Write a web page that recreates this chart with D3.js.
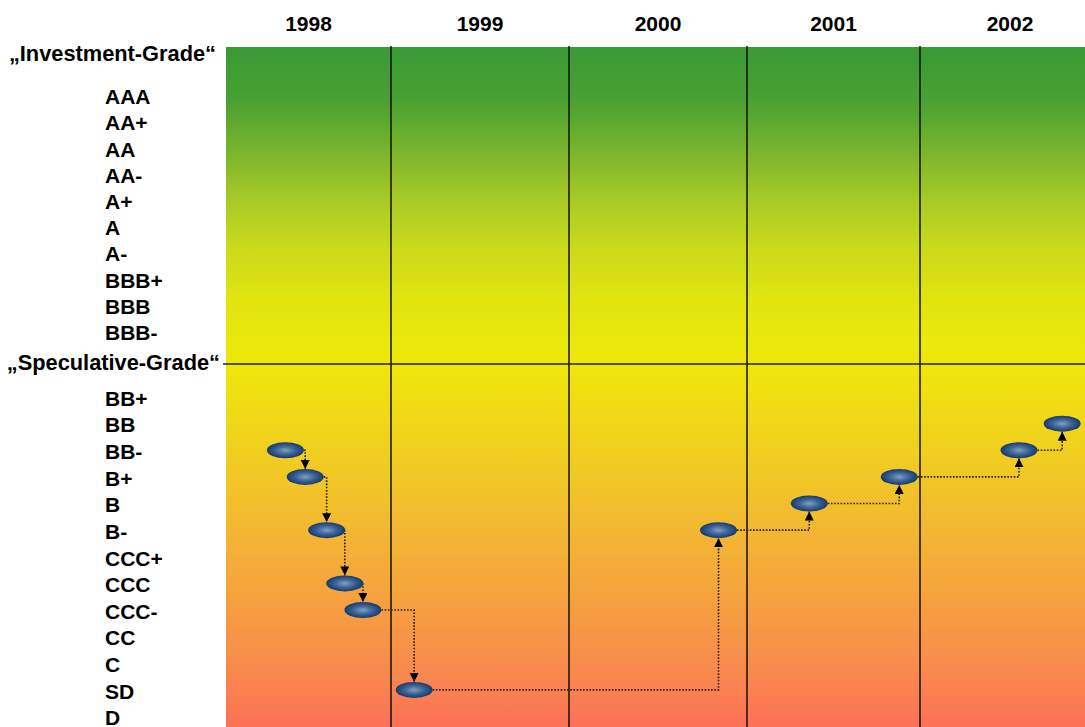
<!DOCTYPE html>
<html>
<head>
<meta charset="utf-8">
<script src="https://cdn.jsdelivr.net/npm/d3@7"></script>
<style>
  html, body { margin: 0; padding: 0; background: #fff; }
  svg { display: block; }
  text { font-family: "Liberation Sans", Arial, Helvetica, sans-serif; font-weight: bold; fill: #000; }
</style>
</head>
<body>
<svg id="chart" width="1085" height="727"></svg>
<script>
// ---- data ----
const years = [1998, 1999, 2000, 2001, 2002];
const yearBounds = [1998, 1999, 2000, 2001, 2002, 2003];
const investmentRatings = ["AAA", "AA+", "AA", "AA-", "A+", "A", "A-", "BBB+", "BBB", "BBB-"];
const speculativeRatings = ["BB+", "BB", "BB-", "B+", "B", "B-", "CCC+", "CCC", "CCC-", "CC", "C", "SD", "D"];
const gradeLabels = ["\u201EInvestment-Grade\u201C", "\u201ESpeculative-Grade\u201C"];
// rating history: time (fractional year) and rating
const pathTimes = [1998.36, 1998.48, 1998.61, 1998.72, 1998.83, 1999.13, 2000.84, 2001.36, 2001.88, 2002.55, 2002.79];
const pathRatings = ["BB-", "B+", "B-", "CCC", "CCC-", "SD", "B-", "B", "B+", "BB-", "BB"];

// ---- layout ----
const W = 1085, H = 727;
const plotLeft = 226, plotTop = 47;
const svg = d3.select("#chart");

const x = d3.scaleLinear().domain(yearBounds).range([226, 391, 569, 747, 920, 1100]);
const yInv = d3.scalePoint().domain(investmentRatings).range([96.5, 332.5]);
const ySpec = d3.scalePoint().domain(speculativeRatings).range([397, 716.5]);
const dividerY = 364;
const y = r => investmentRatings.includes(r) ? yInv(r) : ySpec(r);

const defs = svg.append("defs");
const bg = defs.append("linearGradient").attr("id", "bg")
  .attr("gradientUnits", "userSpaceOnUse")
  .attr("x1", 0).attr("x2", 0).attr("y1", plotTop).attr("y2", H);
const bgStops = [
  [47, "#3a9a35"], [100, "#4aa033"], [150, "#78b42e"], [200, "#a8ca27"],
  [250, "#ccdb1b"], [300, "#e1e410"], [340, "#e9e80b"], [364, "#efe70a"],
  [430, "#f0d51a"], [510, "#f2bd2e"], [590, "#f5a43e"], [660, "#f88d4b"], [727, "#fc7157"]
];
bgStops.forEach(([py, c]) => bg.append("stop").attr("offset", (py - plotTop) / (H - plotTop)).attr("stop-color", c));

const eg = defs.append("radialGradient").attr("id", "ell").attr("cx", "50%").attr("cy", "50%").attr("r", "50%");
eg.append("stop").attr("offset", "0%").attr("stop-color", "#809fc2");
eg.append("stop").attr("offset", "50%").attr("stop-color", "#3f6698");
eg.append("stop").attr("offset", "100%").attr("stop-color", "#163a6f");

defs.append("marker").attr("id", "arrow")
  .attr("viewBox", "0 0 10 10").attr("refX", 10).attr("refY", 5)
  .attr("markerWidth", 9).attr("markerHeight", 9)
  .attr("markerUnits", "userSpaceOnUse").attr("orient", "auto")
  .append("path").attr("d", "M0,0L10,5L0,10Z").attr("fill", "#000").attr("stroke", "none");

// background
svg.append("rect").attr("x", plotLeft).attr("y", plotTop)
  .attr("width", W - plotLeft).attr("height", H - plotTop).attr("fill", "url(#bg)");

// year dividers
svg.append("g").selectAll("line").data(years.slice(1)).join("line")
  .attr("x1", d => x(d)).attr("x2", d => x(d))
  .attr("y1", plotTop - 1).attr("y2", H)
  .attr("stroke", "#111").attr("stroke-width", 1.5);

// grade divider
svg.append("line").attr("x1", 223).attr("x2", W).attr("y1", dividerY).attr("y2", dividerY)
  .attr("stroke", "#222214").attr("stroke-width", 1.6);

// year labels
svg.append("g").selectAll("text").data(years).join("text")
  .attr("x", d => x(d + 0.5)).attr("y", 30.5)
  .attr("text-anchor", "middle").attr("font-size", 21).text(d => d);

// grade labels
svg.append("text").attr("x", 216).attr("y", 60.5).attr("text-anchor", "end")
  .attr("font-size", 21.8).text(gradeLabels[0]);
svg.append("text").attr("x", 220).attr("y", 369.5).attr("text-anchor", "end")
  .attr("font-size", 21.8).text(gradeLabels[1]);

// rating labels
const ratingG = svg.append("g");
ratingG.selectAll("text.inv").data(investmentRatings).join("text").attr("class", "inv")
  .attr("x", 105).attr("y", d => yInv(d)).attr("dy", "0.36em")
  .attr("font-size", 21).text(d => d);
ratingG.selectAll("text.spec").data(speculativeRatings).join("text").attr("class", "spec")
  .attr("x", 105).attr("y", d => ySpec(d) + 1.2).attr("dy", "0.36em")
  .attr("font-size", 21).text(d => d);

// connectors
const rx = 18.5, ry = 8;
const pts = pathTimes.map((t, i) => ({ t, r: pathRatings[i], px: x(t), py: y(pathRatings[i]) }));
const links = d3.pairs(pts);
svg.append("g").selectAll("path").data(links).join("path")
  .attr("d", ([a, b]) => {
    const down = b.py > a.py;
    const endY = down ? b.py - ry : b.py + ry;
    return `M${a.px + rx},${a.py}H${b.px}V${endY}`;
  })
  .attr("fill", "none").attr("stroke", "#222").attr("stroke-width", 1.6)
  .attr("stroke-dasharray", "1.6,1.6").attr("marker-end", "url(#arrow)");

// rating points
svg.append("g").selectAll("ellipse").data(pts).join("ellipse")
  .attr("cx", d => d.px).attr("cy", d => d.py).attr("rx", rx).attr("ry", ry)
  .attr("fill", "url(#ell)");
</script>
</body>
</html>
